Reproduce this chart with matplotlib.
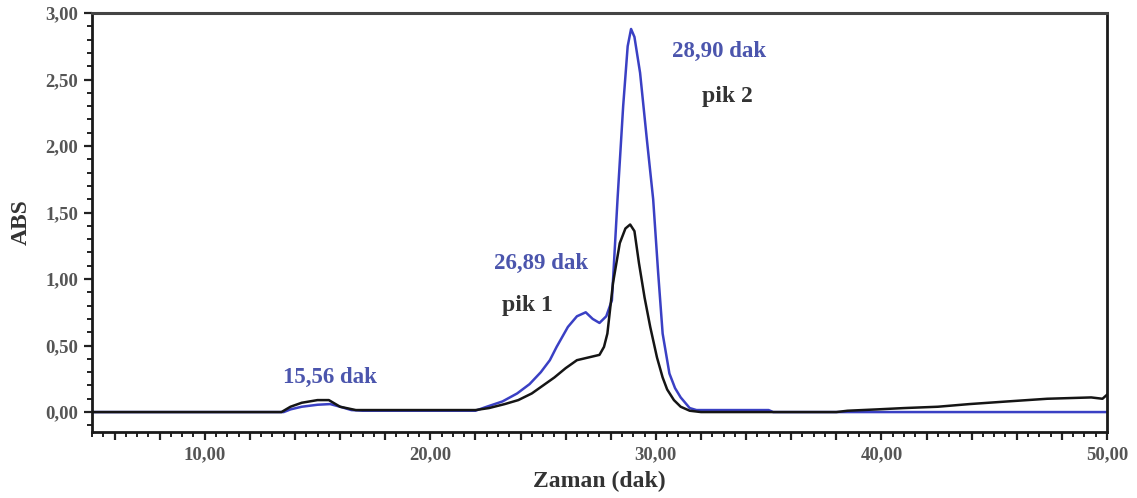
import matplotlib.pyplot as plt
from matplotlib.ticker import MultipleLocator, FixedLocator, FuncFormatter

# chromatogram traces (time in min, absorbance)
black_t = [5.0, 13.4, 13.8, 14.3, 15.0, 15.5, 16.0, 16.7, 17.5, 22.0, 22.6,
           23.3, 23.9, 24.5, 25.0, 25.5, 26.0, 26.5, 27.0, 27.5, 27.7, 27.85,
           28.1, 28.4, 28.65, 28.86, 29.05, 29.25, 29.5, 29.75, 30.05, 30.3,
           30.5, 30.8, 31.1, 31.5, 32.0, 38.0, 38.5, 39.8, 41.0, 42.5, 43.9,
           45.6, 47.35, 49.3, 49.8, 50.0]
black_abs = [0, 0, 0.04, 0.07, 0.09, 0.09, 0.04, 0.015, 0.015, 0.015, 0.03,
             0.06, 0.09, 0.14, 0.20, 0.26, 0.33, 0.39, 0.41, 0.43, 0.49, 0.59,
             0.97, 1.27, 1.38, 1.41, 1.36, 1.12, 0.86, 0.64, 0.41, 0.26,
             0.17, 0.09, 0.04, 0.01, 0, 0, 0.01, 0.02, 0.03, 0.04, 0.06,
             0.08, 0.10, 0.11, 0.10, 0.13]

blue_t = [5.0, 13.5, 13.8, 14.3, 15.0, 15.56, 16.0, 16.5, 17.0, 22.0, 22.5,
          23.2, 23.85, 24.4, 24.9, 25.3, 25.6, 26.1, 26.5, 26.89, 27.2, 27.5,
          27.8, 28.05, 28.3, 28.55, 28.75, 28.90, 29.05, 29.3, 29.6, 29.88,
          30.1, 30.3, 30.6, 30.85, 31.1, 31.5, 31.8, 32.5, 35.0, 35.2, 50.0]
blue_abs = [0, 0, 0.02, 0.04, 0.055, 0.06, 0.04, 0.015, 0.01, 0.01, 0.04,
            0.08, 0.14, 0.21, 0.30, 0.39, 0.49, 0.64, 0.72, 0.75, 0.70, 0.67,
            0.72, 0.84, 1.60, 2.30, 2.75, 2.88, 2.82, 2.55, 2.05, 1.60,
            1.05, 0.59, 0.29, 0.18, 0.11, 0.03, 0.015, 0.015, 0.015, 0, 0]

rt_labels = ["15,56 dak", "26,89 dak", "28,90 dak"]
rt_pos = [(15.55, 0.26), (24.9, 1.12), (32.8, 2.71)]
peak_labels = ["pik 1", "pik 2"]
peak_pos = [(24.3, 0.80), (33.15, 2.37)]

serif = "Liberation Serif"
tick_grey = "#555555"

fig = plt.figure(figsize=(11.37, 4.98), dpi=100)
ax = fig.add_axes([0.0809, 0.1325, 0.8927, 0.8414])

ax.plot(blue_t, blue_abs, color="#3a40c4", lw=1.8, zorder=2)
ax.plot(black_t, black_abs, color="#151515", lw=1.8, zorder=3)

for txt, (x, y) in zip(rt_labels, rt_pos):
    ax.text(x, y, txt, color="#4b55ad", fontsize=16.5, fontweight="bold",
            family=serif, ha="center", va="center")
for txt, (x, y) in zip(peak_labels, peak_pos):
    ax.text(x, y, txt, color="#333333", fontsize=17, fontweight="bold",
            family=serif, ha="center", va="center")

ax.set_xlim(5, 50)
ax.set_ylim(-0.15, 3.0)

ax.xaxis.set_major_locator(MultipleLocator(2))
ax.xaxis.set_minor_locator(MultipleLocator(0.5))
ax.xaxis.set_major_formatter(FuncFormatter(
    lambda v, p: f"{v:.2f}".replace(".", ",") if round(v) % 10 == 0 else ""))
ax.yaxis.set_major_locator(FixedLocator([0, 0.5, 1.0, 1.5, 2.0, 2.5, 3.0]))
ax.yaxis.set_minor_locator(MultipleLocator(0.1))
ax.yaxis.set_major_formatter(FuncFormatter(
    lambda v, p: f"{v:.2f}".replace(".", ",")))

ax.tick_params(which="major", length=6, width=1.6, color="#222222",
               labelsize=13.5, labelcolor=tick_grey, pad=4)
ax.tick_params(which="minor", length=3.5, width=1.4, color="#222222")
for lbl in ax.get_xticklabels() + ax.get_yticklabels():
    lbl.set_family(serif)
    lbl.set_fontweight("bold")

for side in ["left", "bottom", "right"]:
    ax.spines[side].set_linewidth(2)
    ax.spines[side].set_color("#1a1a1a")
ax.spines["top"].set_linewidth(2.2)
ax.spines["top"].set_color("#444444")

ax.set_xlabel("Zaman (dak)", family=serif, fontweight="bold", fontsize=17,
              color="#333333", labelpad=6)
ax.set_ylabel("ABS", family=serif, fontweight="bold", fontsize=17,
              color="#333333", labelpad=10)

fig.savefig("out.png", dpi=100)
